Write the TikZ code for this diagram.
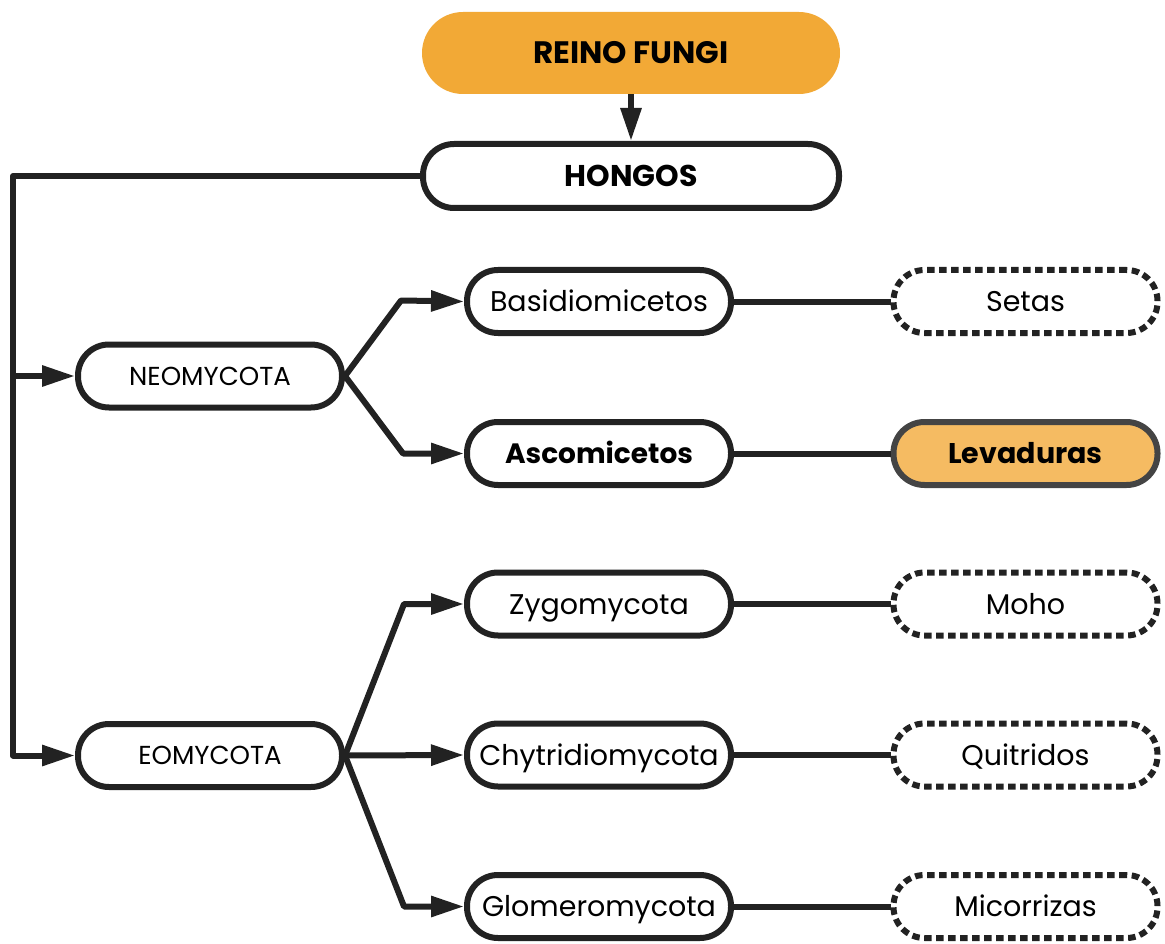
\documentclass[tikz,border=0pt]{standalone}
\usepackage{fontspec}
\setmainfont{Poppins}
\usetikzlibrary{arrows.meta}
\definecolor{lc}{HTML}{222222}
\definecolor{orangetop}{HTML}{F2A936}
\definecolor{orangesoft}{HTML}{F5BB62}
\definecolor{greyline}{HTML}{444444}
\tikzset{
  box/.style={draw=lc, line width=6pt, rounded corners=31pt, fill=white,
    minimum width=264pt, minimum height=63pt, inner sep=0pt,
    text height=20pt, text depth=0pt,
    font=\fontsize{28.5pt}{32pt}\selectfont},
  capsbox/.style={box, text height=18pt, font=\fontsize{26pt}{30pt}\selectfont},
  leafbox/.style={box, dash pattern=on 7.5pt off 4.5pt},
  link/.style={draw=lc, line width=6pt},
  arr/.style={link, -{Triangle[length=33pt,width=20pt]}},
}
\begin{document}
\begin{tikzpicture}[x=1pt,y=-1pt]
\useasboundingbox (0,0) rectangle (1165,944);

% header and root
\node[fill=orangetop, rounded corners=41pt, minimum width=418pt, minimum height=82pt,
  inner sep=0pt, text height=22pt, text depth=0pt,
  font=\fontsize{31pt}{34pt}\selectfont\bfseries] (reino) at (631,53) {REINO FUNGI};
\node[box, minimum width=416pt, minimum height=64pt, text height=21pt,
  font=\fontsize{30pt}{34pt}\selectfont\bfseries] (hongos) at (631,176) {HONGOS};

% divisions
\node[capsbox] (neo) at (210,376) {NEOMYCOTA};
\node[capsbox] (eo) at (210,755.5) {EOMYCOTA};

% classes
\node[box] (basid) at (599,301.5) {Basidiomicetos};
\node[box, font=\fontsize{28pt}{32pt}\selectfont\bfseries] (asco) at (599,453.5) {Ascomicetos};
\node[box] (zygo) at (599,604) {Zygomycota};
\node[box] (chyt) at (599,755) {Chytridiomycota};
\node[box] (glom) at (599,906.5) {Glomeromycota};

% examples
\node[leafbox] (setas) at (1025.5,301.5) {Setas};
\node[box, draw=greyline, fill=orangesoft, font=\fontsize{28.5pt}{32pt}\selectfont\bfseries] (leva) at (1025.5,453.5) {Levaduras};
\node[leafbox] (moho) at (1025.5,604) {Moho};
\node[leafbox] (quit) at (1025.5,755) {Quitridos};
\node[leafbox] (mico) at (1025.5,906.5) {Micorrizas};

% trunk on the left
\coordinate (trunk) at (13,176);
\draw[arr] (reino) -- (hongos);
\draw[link, line join=round] (hongos.west) -- (trunk) -- (trunk |- eo.west);
\draw[arr] (trunk |- neo.west) -- (neo.west);
\draw[arr, line join=round] (trunk) |- (eo.west);

% branches
\coordinate (nb1) at (401,300.5);
\coordinate (nb2) at (403,453.5);
\coordinate (eb1) at (404,604);
\coordinate (eb3) at (404,906.5);
\draw[arr, line join=round] (neo.east) -- (nb1) -- (basid.west);
\draw[arr, line join=round] (neo.east) -- (nb2) -- (asco.west);
\draw[arr, line join=round] (eo.east) -- (eb1) -- (zygo.west);
\draw[arr] (eo.east) -- (chyt.west);
\draw[arr, line join=round] (eo.east) -- (eb3) -- (glom.west);

% links to examples
\draw[link] (basid.east) -- (setas.west);
\draw[link] (asco.east) -- (leva.west);
\draw[link] (zygo.east) -- (moho.west);
\draw[link] (chyt.east) -- (quit.west);
\draw[link] (glom.east) -- (mico.west);
\end{tikzpicture}
\end{document}
